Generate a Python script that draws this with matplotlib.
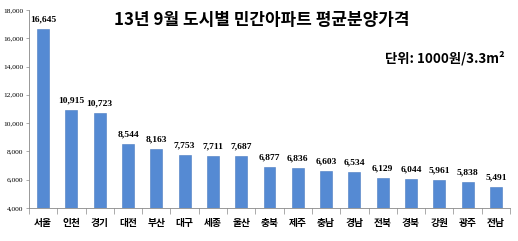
import numpy as np
import matplotlib.pyplot as plt

cities = ["서울", "인천", "경기", "대전", "부산", "대구", "세종", "울산", "충북",
          "제주", "충남", "경남", "전북", "경북", "강원", "광주", "전남"]
prices = [16645, 10915, 10723, 8544, 8163, 7753, 7711, 7687, 6877,
          6836, 6603, 6534, 6129, 6044, 5961, 5838, 5491]
yticks = list(range(4000, 18001, 2000))

plt.rcParams["font.family"] = ["Noto Sans CJK KR", "DejaVu Sans"]

fig = plt.figure(figsize=(5.18, 2.41), dpi=100)
ax = fig.add_axes([29 / 518, 1 - 208 / 241, 481 / 518, 198 / 241])

x = np.arange(len(cities))
ax.bar(x, prices, width=0.42, color="#558ad3", edgecolor="#4a7cc2", linewidth=0.4)

for xi, v in zip(x, prices):
    ax.text(xi, v + 380, f"{v:,}", ha="center", va="bottom",
            fontsize=6.8, fontweight="bold", family="Liberation Serif")

ax.set_xlim(-0.5, len(cities) - 0.5)
ax.set_ylim(4000, 18000)
ax.set_yticks(yticks)
ax.set_yticklabels([f"{t:,}" for t in yticks], family="Liberation Serif", fontsize=5.3)
ax.tick_params(axis="y", length=2.5, width=0.5, color="#888888", pad=1.5)

# category boundaries as ticks, labels in the middle
ax.set_xticks(np.arange(-0.5, len(cities), 1.0))
ax.set_xticklabels([])
ax.set_xticks(x, minor=True)
ax.set_xticklabels(cities, minor=True, fontsize=7, fontweight="bold")
ax.tick_params(axis="x", which="major", length=4, width=0.5, color="#888888")
ax.tick_params(axis="x", which="minor", length=0, pad=7)

for s in ["top", "right"]:
    ax.spines[s].set_visible(False)
for s in ["left", "bottom"]:
    ax.spines[s].set_color("#888888")
    ax.spines[s].set_linewidth(0.6)

fig.text(262 / 518, 1 - 20 / 241, "13년 9월 도시별 민간아파트 평균분양가격",
         ha="center", va="center", fontsize=12.2, fontweight="bold")
fig.text(445 / 518, 1 - 58 / 241, "단위: 1000원/3.3m²",
         ha="center", va="center", fontsize=9.6, fontweight="semibold")

fig.savefig("out.png", dpi=100)
